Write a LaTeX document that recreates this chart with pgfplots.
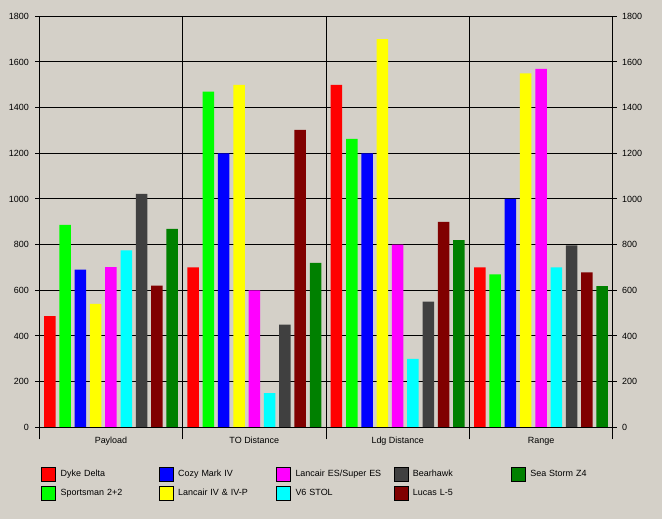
\documentclass[border=0pt]{standalone}
\usepackage{pgfplots}
\pgfplotsset{compat=1.18}
\usepackage{fontspec}
\setmainfont{Liberation Sans}
\definecolor{bg}{HTML}{D4D0C8}
\definecolor{c1}{HTML}{FF0000}
\definecolor{c2}{HTML}{00FF00}
\definecolor{c3}{HTML}{0000FF}
\definecolor{c4}{HTML}{FFFF00}
\definecolor{c5}{HTML}{FF00FF}
\definecolor{c6}{HTML}{00FFFF}
\definecolor{c7}{HTML}{404040}
\definecolor{c8}{HTML}{800000}
\definecolor{c9}{HTML}{008000}
\pgfplotsset{
  legsq/.style={legend image code/.code={\fill[##1] (0bp,-7bp) rectangle (14bp,7bp); \path (19bp,0bp);}},
  mybar/.style={ybar, bar width=11.5bp, draw=none, forget plot},
  base/.style={
    at={(39.3bp,91.7bp)}, anchor=south west,
    scale only axis, width=573.4bp, height=411bp,
    xmin=-0.5, xmax=3.5, ymin=0, ymax=1800,
    ytick distance=200,
    tick align=outside,
    axis line style={black, line width=1bp},
    tick label style={font=\fontsize{9}{10}\selectfont, black},
    /pgf/number format/assume math mode=true,
    /pgf/number format/1000 sep={},
  },
}
\begin{document}
\begin{tikzpicture}[x=1bp,y=1bp]
\useasboundingbox (0,0) rectangle (662,519);
\fill[bg] (0,0) rectangle (662,519);
\begin{axis}[
  base,
  ytick pos=left, yticklabels={}, ytick style={draw=none},
  xtick={-0.5,0.5,1.5,2.5,3.5}, xticklabels={},
  xtick pos=bottom,
  major tick length=12bp,
  xtick style={black, line width=1bp},
  xmajorgrids, ymajorgrids,
  grid style={black, line width=1bp},
  extra x ticks={0,1,2,3},
  extra x tick labels={Payload,TO Distance,Ldg Distance,Range},
  extra x tick style={major tick length=0bp, grid=none, xticklabel style={yshift=-6bp, text height=7bp, text depth=2bp}},
  legend columns=5,
  legend style={at={(axis description cs:0.0035,-0.0955)}, anchor=north west,
    draw=none, fill=none, inner sep=0bp, outer sep=0bp,
    column sep=0bp, row sep=5bp,
    font=\fontsize{9}{10}\selectfont,
    nodes={inner sep=0bp, text width=98bp, align=left, anchor=west, minimum height=14bp}},
]
\addplot[mybar, fill=c1, bar shift=-61.2bp] coordinates {(0,487) (1,700) (2,1500) (3,700)};
\addplot[mybar, fill=c2, bar shift=-45.9bp] coordinates {(0,887) (1,1470) (2,1263) (3,670)};
\addplot[mybar, fill=c3, bar shift=-30.6bp] coordinates {(0,690) (1,1200) (2,1200) (3,1000)};
\addplot[mybar, fill=c4, bar shift=-15.3bp] coordinates {(0,540) (1,1500) (2,1700) (3,1550)};
\addplot[mybar, fill=c5, bar shift=0bp] coordinates {(0,702) (1,600) (2,800) (3,1570)};
\addplot[mybar, fill=c6, bar shift=15.3bp] coordinates {(0,775) (1,150) (2,300) (3,700)};
\addplot[mybar, fill=c7, bar shift=30.6bp] coordinates {(0,1022) (1,450) (2,550) (3,797)};
\addplot[mybar, fill=c8, bar shift=45.9bp] coordinates {(0,620) (1,1303) (2,900) (3,678)};
\addplot[mybar, fill=c9, bar shift=61.2bp] coordinates {(0,869) (1,720) (2,820) (3,618)};
\addlegendimage{legsq, fill=c1}\addlegendentry{Dyke Delta}
\addlegendimage{legsq, fill=c3}\addlegendentry{Cozy Mark IV}
\addlegendimage{legsq, fill=c5}\addlegendentry{Lancair ES/Super ES}
\addlegendimage{legsq, fill=c7}\addlegendentry{Bearhawk}
\addlegendimage{legsq, fill=c9}\addlegendentry{Sea Storm Z4}
\addlegendimage{legsq, fill=c2}\addlegendentry{Sportsman 2+2}
\addlegendimage{legsq, fill=c4}\addlegendentry{Lancair IV \& IV-P}
\addlegendimage{legsq, fill=c6}\addlegendentry{V6 STOL}
\addlegendimage{legsq, fill=c8}\addlegendentry{Lucas L-5}
\end{axis}
\begin{axis}[
  base,
  ytick pos=left, yticklabel pos=left,
  xtick=\empty,
  major tick length=4bp,
  ytick style={black, line width=1bp},
  yticklabel style={xshift=-3bp},
]
\end{axis}
\begin{axis}[
  base,
  ytick pos=right, yticklabel pos=right,
  xtick=\empty,
  major tick length=4bp,
  ytick style={black, line width=1bp},
  yticklabel style={xshift=2bp},
]
\end{axis}
\end{tikzpicture}
\end{document}
